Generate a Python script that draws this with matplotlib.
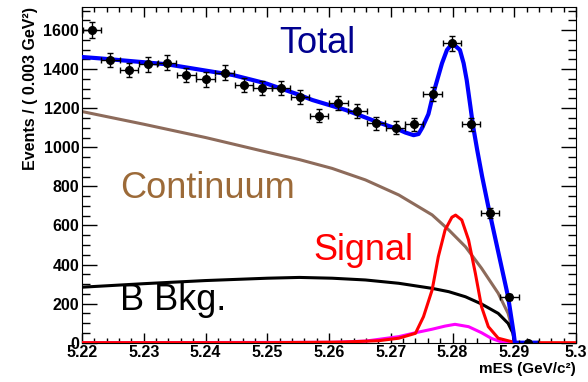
import matplotlib
matplotlib.use("Agg")
import matplotlib.pyplot as plt
from matplotlib.ticker import MultipleLocator, FuncFormatter

plt.rcParams["font.family"] = ["Liberation Sans", "DejaVu Sans"]

# binned data (mES bin centres, events per bin, errors)
mes = [5.2216, 5.2246, 5.2276, 5.2307, 5.2338, 5.2369, 5.2400, 5.2431,
       5.2462, 5.2492, 5.2522, 5.2553, 5.2584, 5.2615, 5.2646, 5.2676,
       5.2708, 5.2738, 5.2768, 5.2799, 5.2830, 5.2861, 5.2892, 5.2923]
events = [1600, 1447, 1395, 1425, 1433, 1370, 1348, 1382, 1319, 1305, 1302, 1259,
          1162, 1225, 1186, 1123, 1100, 1118, 1271, 1532, 1118, 665, 232, 0]
events_err = [40, 38, 37, 38, 38, 37, 37, 37, 36, 36, 36, 35,
              34, 35, 34, 34, 33, 33, 36, 39, 33, 26, 15, 0]
bin_half = 0.0015

# fit curves
tot_x = [5.2200, 5.2229, 5.2337, 5.2444, 5.2498, 5.2552, 5.2573, 5.2627, 5.2681,
         5.2708, 5.2724, 5.2737, 5.2745, 5.2751, 5.2761, 5.2769, 5.2783, 5.2791,
         5.2800, 5.2812, 5.2818, 5.2823, 5.2829, 5.2833, 5.2840, 5.2848, 5.2858,
         5.2890, 5.2899, 5.2901, 5.2935]
tot_y = [1462, 1455, 1425, 1370, 1327, 1268, 1242, 1191, 1126,
         1097, 1075, 1062, 1068, 1100, 1170, 1276, 1430, 1498,
         1532, 1498, 1430, 1344, 1208, 1114, 986, 850, 696,
         235, 50, 0, 0]

cont_x = [5.2200, 5.2300, 5.2400, 5.2500, 5.2552, 5.2605, 5.2659, 5.2713, 5.2767,
          5.2794, 5.2821, 5.2847, 5.2874, 5.2890, 5.2898, 5.2900]
cont_y = [1183, 1118, 1050, 975, 937, 892, 833, 756, 654,
          577, 491, 381, 253, 150, 56, 0]

bkg_x = [5.2200, 5.2300, 5.2400, 5.2500, 5.2552, 5.2605, 5.2659, 5.2713, 5.2767,
         5.2794, 5.2821, 5.2847, 5.2874, 5.2890, 5.2898, 5.2900]
bkg_y = [284, 302, 318, 330, 334, 330, 321, 304, 278,
         261, 235, 198, 150, 99, 48, 0]

sig_x = [5.2200, 5.2500, 5.2620, 5.2680, 5.2713, 5.2740, 5.2753, 5.2767, 5.2777,
         5.2788, 5.2799, 5.2805, 5.2815, 5.2826, 5.2837, 5.2847, 5.2858, 5.2874,
         5.2896, 5.2900, 5.3000]
sig_y = [0, 0, 3, 10, 23, 48, 133, 270, 440,
         577, 642, 653, 628, 526, 355, 184, 82, 23,
         5, 0, 0]

peak_x = [5.2200, 5.2605, 5.2659, 5.2713, 5.2740, 5.2767, 5.2788, 5.2804, 5.2826,
          5.2847, 5.2863, 5.2880, 5.2890]
peak_y = [0, 2, 8, 31, 51, 69, 85, 94, 82,
          51, 22, 3, 0]

fig = plt.figure(figsize=(5.88, 3.82), dpi=100)
ax = fig.add_axes([0.1395, 0.1029, 0.8401, 0.8788])

ax.plot(cont_x, cont_y, color="#8d6b5b", lw=2.2, zorder=2)
ax.plot(bkg_x, bkg_y, color="black", lw=2.2, zorder=2)
ax.plot(peak_x, peak_y, color="#ff00ff", lw=2.2, zorder=3)
ax.plot(sig_x, sig_y, color="red", lw=2.2, zorder=3)
ax.plot(tot_x, tot_y, color="#0000ff", lw=3, zorder=4)
ax.errorbar(mes, events, yerr=events_err, xerr=bin_half, fmt="o", color="black",
            ms=5.5, elinewidth=1, capsize=2.5, capthick=1, zorder=5)

ax.text(0.399, 0.863, "Total", transform=ax.transAxes, fontsize=26,
        color="#00008f", va="baseline")
ax.text(0.077, 0.431, "Continuum", transform=ax.transAxes, fontsize=26,
        color="#9c6a38", va="baseline")
ax.text(0.468, 0.246, "Signal", transform=ax.transAxes, fontsize=26,
        color="red", va="baseline")
ax.text(0.077, 0.097, "B Bkg.", transform=ax.transAxes, fontsize=26,
        color="black", va="baseline")

ax.set_xlim(5.22, 5.30)
ax.set_ylim(0, 1718)
ax.xaxis.set_major_locator(MultipleLocator(0.01))
ax.xaxis.set_minor_locator(MultipleLocator(0.002))
ax.yaxis.set_major_locator(MultipleLocator(200))
ax.yaxis.set_minor_locator(MultipleLocator(50))
ax.xaxis.set_major_formatter(FuncFormatter(lambda v, p: f"{v:g}"))
ax.tick_params(axis="both", which="both", direction="in", top=True, right=True,
               color="black", width=1)
ax.tick_params(axis="x", which="major", length=7, pad=2)
ax.tick_params(axis="x", which="minor", length=3.5)
ax.tick_params(axis="y", which="major", length=11, pad=2)
ax.tick_params(axis="y", which="minor", length=5.5)
for lab in ax.get_xticklabels() + ax.get_yticklabels():
    lab.set_fontweight("bold")
    lab.set_fontsize(11.5)

ax.set_xlabel("mES (GeV/c²)", fontsize=11, fontweight="bold", loc="right")
ax.xaxis.set_label_coords(1.0, -0.058)
ax.set_ylabel("Events / ( 0.003 GeV²)", fontsize=11.5, fontweight="bold", loc="top")
ax.yaxis.set_label_coords(-0.089, 1.0)

fig.savefig("out.png", dpi=100)
